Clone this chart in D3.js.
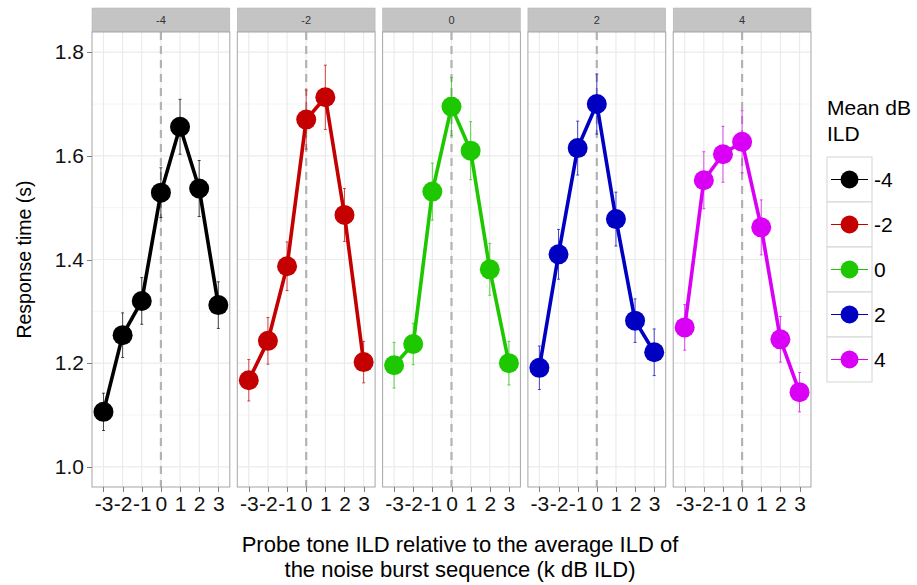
<!DOCTYPE html>
<html lang="en">
<head>
<meta charset="UTF-8">
<title>Response time by probe tone ILD</title>
<style>
  body {
    margin: 0;
    padding: 0;
    background-color: #fff;
  }
  svg text {
    font-family: "Liberation Sans", Arial, Helvetica, sans-serif;
  }
  .axis path {
    display: none;
  }
  .axis line {
    stroke: #7f7f7f;
    shape-rendering: crispEdges;
  }
  .axis text {
    fill: #111;
    font-size: 21px;
  }
</style>
</head>
<body>
<div class="vizHolder"></div>
<script src="https://cdnjs.cloudflare.com/ajax/libs/d3/7.8.5/d3.min.js"></script>
<script>

// facet groups (mean dB ILD) and probe offsets
var groups = ["-4", "-2", "0", "2", "4"];
var probes = [-3, -2, -1, 0, 1, 2, 3];
var colors = ["#000000", "#c40000", "#1ec800", "#0000c2", "#da00f5"];

// mean response time (s) and standard error, one pair per group
var rtM4 = [1.106, 1.254, 1.320, 1.529, 1.656, 1.537, 1.312];
var seM4 = [0.036, 0.043, 0.045, 0.048, 0.053, 0.054, 0.045];
var rtM2 = [1.167, 1.243, 1.387, 1.670, 1.713, 1.486, 1.202];
var seM2 = [0.040, 0.045, 0.047, 0.057, 0.062, 0.051, 0.040];
var rt0 = [1.196, 1.237, 1.531, 1.695, 1.610, 1.381, 1.200];
var se0 = [0.044, 0.040, 0.055, 0.056, 0.056, 0.050, 0.042];
var rtP2 = [1.191, 1.410, 1.615, 1.700, 1.478, 1.282, 1.221];
var seP2 = [0.042, 0.048, 0.052, 0.058, 0.052, 0.042, 0.045];
var rtP4 = [1.269, 1.553, 1.603, 1.627, 1.462, 1.246, 1.144];
var seP4 = [0.044, 0.055, 0.054, 0.060, 0.053, 0.044, 0.038];

var yTicks = [1.0, 1.2, 1.4, 1.6, 1.8];
var yMinor = [1.1, 1.3, 1.5, 1.7];

var rts = [rtM4, rtM2, rt0, rtP2, rtP4];
var ses = [seM4, seM2, se0, seP2, seP4];

var width = 917, height = 585;
var plotTop = 32, plotBottom = 487, stripH = 24;

var svg = d3.select(".vizHolder").
append("svg").
attr("width", width).
attr("height", height);

var panelScale = d3.scaleBand().
domain(groups).
range([92, 811]).
paddingInner(0.0516).
paddingOuter(0);

var bw = panelScale.bandwidth();

var xScale = d3.scaleLinear().
domain([-3.6, 3.6]).
range([0, bw]);

var yScale = d3.scaleLinear().
domain([0.961, 1.839]).
range([plotBottom, plotTop]);

var line = d3.line().
x(function (d) { return xScale(d.x); }).
y(function (d) { return yScale(d.y); });

// plain hyphen minus, like the original
var fmtInt = function (d) { return String(d); };

groups.forEach(function (g, gi) {
  var color = colors[gi];
  var pts = probes.map(function (p, i) {
    return { x: p, y: rts[gi][i], se: ses[gi][i] };
  });

  var panel = svg.append("g").
  attr("transform", "translate(" + panelScale(g) + ",0)");

  // strip
  panel.append("rect").
  attr("x", 0).
  attr("y", plotTop - stripH).
  attr("width", bw).
  attr("height", stripH).
  attr("fill", "#c4c4c4").
  attr("stroke", "#b0b0b0").
  attr("stroke-width", 0.5);
  panel.append("text").
  attr("x", bw / 2).
  attr("y", plotTop - stripH / 2).
  attr("dy", "0.35em").
  attr("text-anchor", "middle").
  attr("font-size", 11).
  attr("fill", "#333").
  text(g);

  // background grid
  panel.append("rect").
  attr("x", 0).
  attr("y", plotTop).
  attr("width", bw).
  attr("height", plotBottom - plotTop).
  attr("fill", "#fff");

  panel.selectAll(".minor").
  data(yMinor).
  enter().append("line").
  attr("x1", 0).
  attr("x2", bw).
  attr("y1", yScale).
  attr("y2", yScale).
  attr("stroke", "#f4f4f4").
  attr("stroke-width", 1);

  panel.selectAll(".hmajor").
  data(yTicks).
  enter().append("line").
  attr("x1", 0).
  attr("x2", bw).
  attr("y1", yScale).
  attr("y2", yScale).
  attr("stroke", "#ebebeb").
  attr("stroke-width", 1.2);

  panel.selectAll(".vmajor").
  data(probes).
  enter().append("line").
  attr("x1", xScale).
  attr("x2", xScale).
  attr("y1", plotTop).
  attr("y2", plotBottom).
  attr("stroke", "#ebebeb").
  attr("stroke-width", 1.2);

  // reference line at 0
  panel.append("line").
  attr("x1", xScale(0)).
  attr("x2", xScale(0)).
  attr("y1", plotTop).
  attr("y2", plotBottom).
  attr("stroke", "#b3b3b3").
  attr("stroke-width", 2.2).
  attr("stroke-dasharray", "8,6");

  // error bars
  var eb = panel.selectAll(".eb").
  data(pts).
  enter().append("g").
  attr("stroke", color).
  attr("stroke-opacity", 0.7).
  attr("stroke-width", 1);
  eb.append("line").
  attr("x1", function (d) { return xScale(d.x); }).
  attr("x2", function (d) { return xScale(d.x); }).
  attr("y1", function (d) { return yScale(d.y - d.se); }).
  attr("y2", function (d) { return yScale(d.y + d.se); });
  eb.append("line").
  attr("x1", function (d) { return xScale(d.x) - 1.5; }).
  attr("x2", function (d) { return xScale(d.x) + 1.5; }).
  attr("y1", function (d) { return yScale(d.y + d.se); }).
  attr("y2", function (d) { return yScale(d.y + d.se); });
  eb.append("line").
  attr("x1", function (d) { return xScale(d.x) - 1.5; }).
  attr("x2", function (d) { return xScale(d.x) + 1.5; }).
  attr("y1", function (d) { return yScale(d.y - d.se); }).
  attr("y2", function (d) { return yScale(d.y - d.se); });

  panel.append("path").
  datum(pts).
  attr("d", line).
  attr("fill", "none").
  attr("stroke", color).
  attr("stroke-width", 3.6).
  attr("stroke-linejoin", "round");

  panel.selectAll(".dot").
  data(pts).
  enter().append("circle").
  attr("cx", function (d) { return xScale(d.x); }).
  attr("cy", function (d) { return yScale(d.y); }).
  attr("r", 10).
  attr("fill", color);

  // panel border
  panel.append("rect").
  attr("x", 0).
  attr("y", plotTop).
  attr("width", bw).
  attr("height", plotBottom - plotTop).
  attr("fill", "none").
  attr("stroke", "#a6a6a6").
  attr("stroke-width", 1);

  // x axis
  panel.append("g").
  attr("class", "axis").
  attr("transform", "translate(0," + plotBottom + ")").
  call(d3.axisBottom(xScale).tickValues(probes).tickSize(5).tickPadding(4).tickFormat(fmtInt));
});

// y axis
svg.append("g").
attr("class", "axis").
attr("transform", "translate(" + panelScale(groups[0]) + ",0)").
call(d3.axisLeft(yScale).tickValues(yTicks).tickSize(5).tickPadding(3).tickFormat(d3.format(".1f")));

// axis titles
svg.append("text").
attr("transform", "translate(31," + (plotTop + plotBottom) / 2 + ") rotate(-90)").
attr("text-anchor", "middle").
attr("font-size", 19.5).
attr("fill", "#000").
text("Response time (s)");

var xt = svg.append("text").
attr("text-anchor", "middle").
attr("font-size", 22).
attr("fill", "#000");
xt.append("tspan").
attr("x", 460).
attr("y", 552).
text("Probe tone ILD relative to the average ILD of");
xt.append("tspan").
attr("x", 460).
attr("y", 577).
text("the noise burst sequence (k dB ILD)");

// legend
var legendX = 827, legendY = 157, keySize = 45;
svg.append("text").
attr("x", legendX).
attr("y", 115).
attr("font-size", 21).
text("Mean dB");
svg.append("text").
attr("x", legendX).
attr("y", 141).
attr("font-size", 21).
text("ILD");

var legend = svg.selectAll(".legend").
data(groups).
enter().append("g").
attr("class", "legend").
attr("transform", function (d, i) { return "translate(" + legendX + "," + (legendY + i * keySize) + ")"; });

legend.append("rect").
attr("width", keySize).
attr("height", keySize).
attr("fill", "#fff").
attr("stroke", "#d4d4d4").
attr("stroke-width", 1);

legend.append("line").
attr("x1", 4).
attr("x2", keySize - 4).
attr("y1", keySize / 2).
attr("y2", keySize / 2).
attr("stroke", function (d, i) { return colors[i]; }).
attr("stroke-width", 1);

legend.append("circle").
attr("cx", keySize / 2).
attr("cy", keySize / 2).
attr("r", 9).
attr("fill", function (d, i) { return colors[i]; });

legend.append("text").
attr("x", keySize + 2).
attr("y", keySize / 2).
attr("dy", "0.36em").
attr("font-size", 21).
text(function (d) { return d; });

</script>
</body>
</html>
